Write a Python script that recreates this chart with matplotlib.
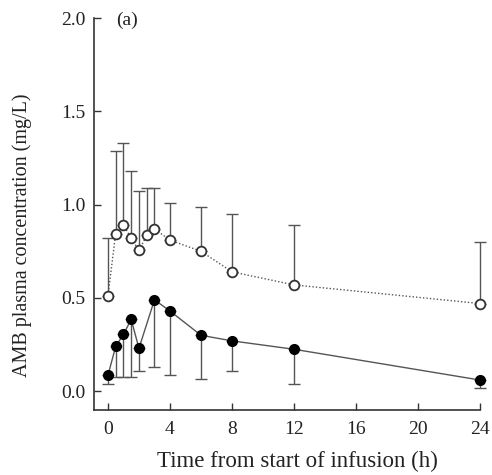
import matplotlib
matplotlib.use("Agg")
import matplotlib.pyplot as plt

# time points (h)
time = [0, 0.5, 1, 1.5, 2, 2.5, 3, 4, 6, 8, 12, 24]

# open circles (dotted), upper error bar tops
open_mean = [0.51, 0.845, 0.89, 0.82, 0.755, 0.835, 0.87, 0.81, 0.75, 0.64, 0.57, 0.47]
open_top  = [0.82, 1.29, 1.33, 1.18, 1.075, 1.09, 1.09, 1.01, 0.99, 0.95, 0.89, 0.80]

# filled circles (solid), lower error bar ends
fill_time = [0, 0.5, 1, 1.5, 2, 3, 4, 6, 8, 12, 24]
fill_mean = [0.085, 0.24, 0.305, 0.385, 0.23, 0.49, 0.43, 0.30, 0.27, 0.225, 0.06]
fill_low  = [0.04, 0.075, 0.075, 0.075, 0.11, 0.13, 0.085, 0.065, 0.11, 0.04, 0.02]

xticks = [0, 4, 8, 12, 16, 20, 24]
yticks = [0.0, 0.5, 1.0, 1.5, 2.0]

plt.rcParams["font.family"] = ["Liberation Serif", "DejaVu Serif"]

fig = plt.figure(figsize=(4.92, 4.75), dpi=100)
ax = fig.add_axes([0.191, 0.137, 0.785, 0.825])

ink = "#333333"
bar = "#555555"
txt = "#222222"

o_err = [[0] * len(open_mean), [t - m for t, m in zip(open_top, open_mean)]]
eb = ax.errorbar(time, open_mean, yerr=o_err, fmt="none", ecolor=bar,
                 elinewidth=1.0, capsize=4, capthick=1.0, zorder=1)
ax.plot(time, open_mean, linestyle=(0, (1, 1.5)), color=bar, linewidth=1.0,
        marker="o", markersize=7, markerfacecolor="white",
        markeredgecolor=ink, markeredgewidth=1.3, zorder=3, clip_on=False)

f_err = [[m - l for m, l in zip(fill_mean, fill_low)], [0] * len(fill_mean)]
eb2 = ax.errorbar(fill_time, fill_mean, yerr=f_err, fmt="none", ecolor=bar,
                  elinewidth=1.0, capsize=4, capthick=1.0, zorder=1)
ax.plot(fill_time, fill_mean, linestyle="-", color=bar, linewidth=1.0,
        marker="o", markersize=7, markerfacecolor="black",
        markeredgecolor="black", zorder=3, clip_on=False)

for container in (eb, eb2):
    for art in container.lines[1] + container.lines[2]:
        art.set_clip_on(False)

ax.set_xlim(-0.9, 24)
ax.set_ylim(-0.1, 2.0)
ax.set_xticks(xticks)
ax.set_yticks(yticks)
ax.set_yticklabels([f"{v:.1f}" for v in yticks])

for s in ["top", "right"]:
    ax.spines[s].set_visible(False)
for s in ["left", "bottom"]:
    ax.spines[s].set_color(ink)
    ax.spines[s].set_linewidth(1.2)
ax.tick_params(direction="in", length=5, width=1.0, colors=ink,
               labelsize=14, labelcolor=txt)
ax.tick_params(axis="y", pad=6)
ax.tick_params(axis="x", pad=8)

ax.set_xlabel("Time from start of infusion (h)", fontsize=16.5, color=txt)
ax.xaxis.set_label_coords(0.528, -0.105)
ax.set_ylabel("AMB plasma concentration (mg/L)", fontsize=14.5, color=txt)
ax.yaxis.set_label_coords(-0.16, 0.446)
ax.text(0.5, 1.99, "(a)", fontsize=14, color=txt, va="center", ha="left")

fig.savefig("out.png", dpi=100)
